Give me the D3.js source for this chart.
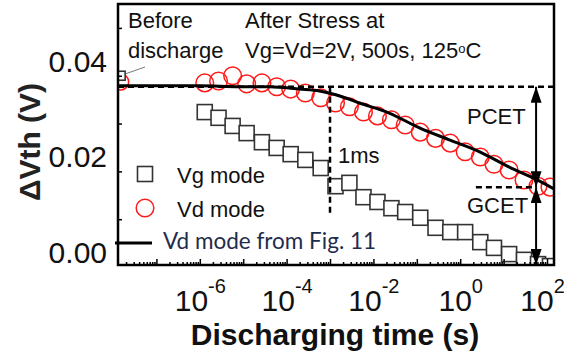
<!DOCTYPE html>
<meta charset="utf-8">
<style>
body { margin: 0; background: #fff; }
svg text { font-family: "Liberation Sans", Arial, sans-serif; fill: #111; }
.axis path { display: none; }
.axis line { stroke: #000; stroke-width: 1.5px; }
.frame { fill: none; stroke: #000; stroke-width: 2.5px; }
.dash { fill: none; stroke: #000; stroke-width: 2.5px; stroke-dasharray: 6,4; }
.vg { fill: #fff; stroke: #333; stroke-width: 1.6px; }
.vd { fill: none; stroke: #ff1a1a; stroke-width: 1.5px; }
.fig11 { fill: none; stroke: #000; stroke-width: 3px; }
</style>
<body>
<script src="https://d3js.org/d3.v7.min.js"></script>
<script>

// discharging time (s) of the measured points
var timeS = [1.3e-6, 2.7e-6, 5.7e-6, 1.2e-5, 2.7e-5, 5.9e-5, 1.24e-4, 2.7e-4, 6.1e-4,
             1.34e-3, 2.8e-3, 5.9e-3, 0.0124, 0.026, 0.054, 0.12, 0.27, 0.59,
             1.3, 2.9, 6.0, 13.4, 29.5, 62, 117];
// delta Vth (V), Vg mode (squares)
var vgMode = [0.0324, 0.0312, 0.0295, 0.0280, 0.0261, 0.0249, 0.0236, 0.0224, 0.0207,
              0.0169, 0.0176, 0.0146, 0.0136, 0.0123, 0.0115, 0.0103, 0.0082, 0.0073,
              0.0073, 0.0052, 0.0040, 0.0027, 0.0015, 0.0006, 0.0002];
// delta Vth (V), Vd mode (circles)
var vdMode = [0.0385, 0.0389, 0.0400, 0.0383, 0.0385, 0.0377, 0.0372, 0.0364, 0.0354,
              0.0343, 0.0335, 0.0324, 0.0316, 0.0308, 0.0297, 0.0282, 0.0269, 0.0259,
              0.0241, 0.0230, 0.0215, 0.0203, 0.0182, 0.0169, 0.0167];
// Vd mode curve from Fig. 11
var fig11Time = [1.3e-8, 1e-6, 8.3e-6, 4e-5, 2e-4, 5.7e-4, 1.9e-3, 4.8e-3, 0.023,
                 0.115, 0.56, 2.8, 13.5, 66, 145];
var fig11Vth = [0.0379, 0.0379, 0.0377, 0.0377, 0.0372, 0.0368, 0.0356, 0.0343, 0.0322,
                0.0291, 0.0266, 0.0241, 0.0209, 0.0180, 0.0163];
// before discharge point
var beforeTime = 1.5e-8, beforeVg = 0.0400, beforeVd = 0.0387;

// ticks
var yTicks = [0, 0.01, 0.02, 0.03, 0.04, 0.05];
var yTickLabels = ["0.00", "", "0.02", "", "0.04", ""];
var xTicks = [1e-6, 1e-4, 1e-2, 1e0, 1e2];
var xTickExp = ["-6", "-4", "-2", "0", "2"];

// annotation levels
var pcetLevel = 0.0377, gcetLevel = 0.0167;
var oneMs = 1e-3, oneMsBottom = 0.0113;
var arrowTime = 56, gcetFrom = 2.3, gcetTo = 45;

var margin = {top: 4, right: 10, bottom: 91, left: 118},
    width = 564 - margin.left - margin.right,
    height = 356 - margin.top - margin.bottom;

var x = d3.scaleLog().domain([Math.pow(10, -7.885), Math.pow(10, 2.161)]).range([0, width]);
var y = d3.scaleLinear().domain([0.00042, 0.0550]).range([height, 0]);

var root = d3.select("body").append("svg")
    .attr("width", 564)
    .attr("height", 356);

var defs = root.append("defs");
defs.append("clipPath").attr("id", "plotclip")
  .append("rect").attr("width", width).attr("height", height);
defs.append("marker")
    .attr("id", "arrow")
    .attr("markerUnits", "userSpaceOnUse")
    .attr("markerWidth", 16).attr("markerHeight", 11)
    .attr("refX", 16).attr("refY", 5.5)
    .attr("orient", "auto-start-reverse")
  .append("path")
    .attr("d", "M0,0L16,5.5L0,11Z")
    .attr("fill", "#000");

var svg = root.append("g")
    .attr("transform", "translate(" + margin.left + "," + margin.top + ")");

// data layer
var plot = svg.append("g").attr("clip-path", "url(#plotclip)");

plot.selectAll(".vg").data(timeS).enter().append("rect")
    .attr("class", "vg")
    .attr("x", function(d) { return x(d) - 7.5; })
    .attr("y", function(d, i) { return y(vgMode[i]) - 7.5; })
    .attr("width", 15).attr("height", 15);

plot.selectAll(".vd").data(timeS).enter().append("circle")
    .attr("class", "vd")
    .attr("cx", function(d) { return x(d); })
    .attr("cy", function(d, i) { return y(vdMode[i]); })
    .attr("r", 8.8);

plot.append("circle")
    .attr("class", "vd")
    .attr("cx", x(beforeTime)).attr("cy", y(beforeVd)).attr("r", 8);

var line = d3.line()
    .x(function(d, i) { return x(fig11Time[i]); })
    .y(function(d) { return y(d); })
    .curve(d3.curveMonotoneX);

plot.append("path")
    .datum(fig11Vth)
    .attr("class", "fig11")
    .attr("d", line);

plot.append("rect")
    .attr("class", "vg")
    .attr("x", x(beforeTime) - 4.5).attr("y", y(beforeVg) - 4.5)
    .attr("width", 9).attr("height", 9);

// dashed guides
plot.append("line").attr("class", "dash")
    .attr("x1", 0).attr("x2", width)
    .attr("y1", y(pcetLevel)).attr("y2", y(pcetLevel));
plot.append("line").attr("class", "dash")
    .attr("x1", x(oneMs)).attr("x2", x(oneMs))
    .attr("y1", y(pcetLevel)).attr("y2", y(oneMsBottom));
plot.append("line").attr("class", "dash")
    .attr("x1", x(gcetFrom)).attr("x2", x(gcetTo))
    .attr("y1", y(gcetLevel)).attr("y2", y(gcetLevel));

// PCET / GCET arrows
svg.append("line")
    .attr("x1", x(arrowTime)).attr("x2", x(arrowTime))
    .attr("y1", y(pcetLevel)).attr("y2", y(gcetLevel))
    .attr("stroke", "#000").attr("stroke-width", 2)
    .attr("marker-start", "url(#arrow)").attr("marker-end", "url(#arrow)");
svg.append("line")
    .attr("x1", x(arrowTime)).attr("x2", x(arrowTime))
    .attr("y1", y(gcetLevel)).attr("y2", height)
    .attr("stroke", "#000").attr("stroke-width", 2)
    .attr("marker-start", "url(#arrow)").attr("marker-end", "url(#arrow)");

// frame
svg.append("rect").attr("class", "frame").attr("width", width).attr("height", height);

// Y axis
var gy = svg.append("g").attr("class", "axis")
    .call(d3.axisLeft(y).tickValues(yTicks).tickSize(-4).tickPadding(11)
      .tickFormat(function(d, i) { return yTickLabels[i]; }));
gy.selectAll("text")
    .attr("transform", "translate(0,-14)")
    .style("font-size", "30px");
gy.selectAll(".tick").filter(function(d) { return d === 0; }).select("line").remove();

// X axis minor / major ticks
var gx = svg.append("g").attr("class", "axis")
    .attr("transform", "translate(0," + height + ")")
    .call(d3.axisBottom(x).tickValues(x.ticks(20)).tickSize(-3).tickFormat(""));
gx.selectAll(".tick line")
    .filter(function(d) { var l = Math.log10(d); return Math.abs(l - Math.round(l)) < 1e-6; })
    .attr("y2", -6);

// X tick labels
var gxl = svg.append("g").attr("class", "axis")
    .attr("transform", "translate(0," + height + ")")
    .call(d3.axisBottom(x).tickValues(xTicks).tickSize(0));
gxl.selectAll(".tick text").each(function(d, i) {
  var t = d3.select(this);
  t.text(null).attr("y", 46).attr("dy", null).style("font-size", "30px");
  // keep the last label inside the picture
  if (i === xTicks.length - 1) t.attr("x", -5);
  t.append("tspan").text("10");
  t.append("tspan").attr("dy", -18).style("font-size", "20px").text(xTickExp[i]);
});

// axis titles
root.append("text")
    .attr("transform", "translate(40,142) rotate(-90)")
    .attr("text-anchor", "middle")
    .style("font-size", "30px").style("font-weight", "bold")
    .style("fill", "#222")
    .text("\u0394Vth (V)");
root.append("text")
    .attr("x", 335).attr("y", 345)
    .attr("text-anchor", "middle")
    .style("font-size", "30px").style("font-weight", "bold")
    .text("Discharging time (s)");

// annotations
function note(txt, px, py, size) {
  return root.append("text").attr("x", px).attr("y", py)
      .style("font-size", (size || 22) + "px").text(txt);
}
note("Before", 128, 28);
note("discharge", 128, 58);
note("After Stress at", 245, 28);
var cond = note("Vg=Vd=2V, 500s, 125", 245, 58);
cond.append("tspan").attr("dy", -5).style("font-size", "13px").text("o");
cond.append("tspan").attr("dy", 5).text("C");
note("1ms", 338, 163);
note("PCET", 467, 124);
note("GCET", 467, 213);

root.append("line")
    .attr("x1", 125).attr("y1", 74).attr("x2", 145).attr("y2", 67)
    .attr("stroke", "#555").attr("stroke-width", 0.8);

// legend
root.append("rect").attr("class", "vg")
    .attr("x", 137.5).attr("y", 166.5).attr("width", 15).attr("height", 15);
note("Vg mode", 177, 183);
root.append("circle").attr("class", "vd")
    .attr("cx", 145).attr("cy", 208).attr("r", 8.8);
note("Vd mode", 177, 217);
root.append("line")
    .attr("x1", 115).attr("x2", 152).attr("y1", 243).attr("y2", 243)
    .attr("stroke", "#000").attr("stroke-width", 3);
note("Vd mode from Fig. 11", 163, 249, 22.5)
    .style("font-family", "Lato, 'Open Sans', sans-serif")
    .style("fill", "#1f2d4d");

</script>
</body>
